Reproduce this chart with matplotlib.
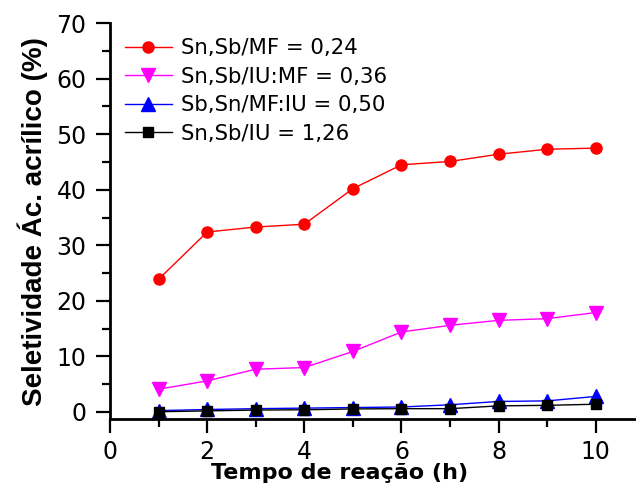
import numpy as np
import matplotlib
matplotlib.use("Agg")
import matplotlib.pyplot as plt
from matplotlib.ticker import MultipleLocator

plt.rcParams['font.family'] = ['DejaVu Sans']

tempo = [1, 2, 3, 4, 5, 6, 7, 8, 9, 10]
sel_mf_024 = [23.9, 32.4, 33.3, 33.8, 40.2, 44.5, 45.1, 46.4, 47.3, 47.5]
sel_iumf_036 = [4.1, 5.6, 7.7, 8.0, 10.9, 14.4, 15.6, 16.5, 16.8, 17.9]
sel_mfiu_050 = [0.25, 0.45, 0.6, 0.7, 0.8, 0.9, 1.3, 1.9, 2.0, 2.8]
sel_iu_126 = [0.05, 0.2, 0.35, 0.4, 0.55, 0.6, 0.6, 1.1, 1.2, 1.4]
labels = ["Sn,Sb/MF = 0,24", "Sn,Sb/IU:MF = 0,36", "Sb,Sn/MF:IU = 0,50", "Sn,Sb/IU = 1,26"]

fig = plt.figure(figsize=(6.36, 5.03), dpi=100)
ax = fig.add_axes([0.173, 0.167, 0.827, 0.787])

ax.plot(tempo, sel_mf_024, 'r-', marker='o', ms=8, lw=1, label=labels[0])
ax.plot(tempo, sel_iumf_036, '-', color='#ff00ff', marker='v', ms=9.5, lw=1, label=labels[1])
ax.plot(tempo, sel_mfiu_050, 'b-', marker='^', ms=9.5, lw=1, label=labels[2])
ax.plot(tempo, sel_iu_126, 'k-', marker='s', ms=7, lw=1, label=labels[3])

ax.set_xlim(0, 10.83)
ax.set_ylim(-1.26, 70)
ax.xaxis.set_major_locator(MultipleLocator(2))
ax.xaxis.set_minor_locator(MultipleLocator(1))
ax.yaxis.set_major_locator(MultipleLocator(10))
ax.yaxis.set_minor_locator(MultipleLocator(5))
ax.tick_params(which='major', direction='out', length=10, width=1.6, labelsize=17)
ax.tick_params(axis='y', which='major', pad=7)
ax.tick_params(axis='x', which='major', pad=5)
ax.tick_params(which='minor', direction='out', length=6, width=1.6)
ax.spines['top'].set_visible(False)
ax.spines['right'].set_visible(False)
ax.spines['left'].set_linewidth(2)
ax.spines['bottom'].set_linewidth(2)

ax.set_xlabel("Tempo de reação (h)", fontsize=16, fontweight='bold')
ax.xaxis.set_label_coords(0.437, -0.11, transform=ax.transAxes)
ax.xaxis.label.set_va('top')
ax.set_ylabel("Seletividade Ác. acrílico (%)", family=['Liberation Sans'],
              fontsize=20, fontweight='bold', labelpad=6)

ax.legend(loc='upper left', frameon=False, fontsize=15.3, handlelength=2.2,
          borderaxespad=0.3, labelspacing=0.4, handletextpad=0.45)

plt.savefig("out.png", dpi=100)
